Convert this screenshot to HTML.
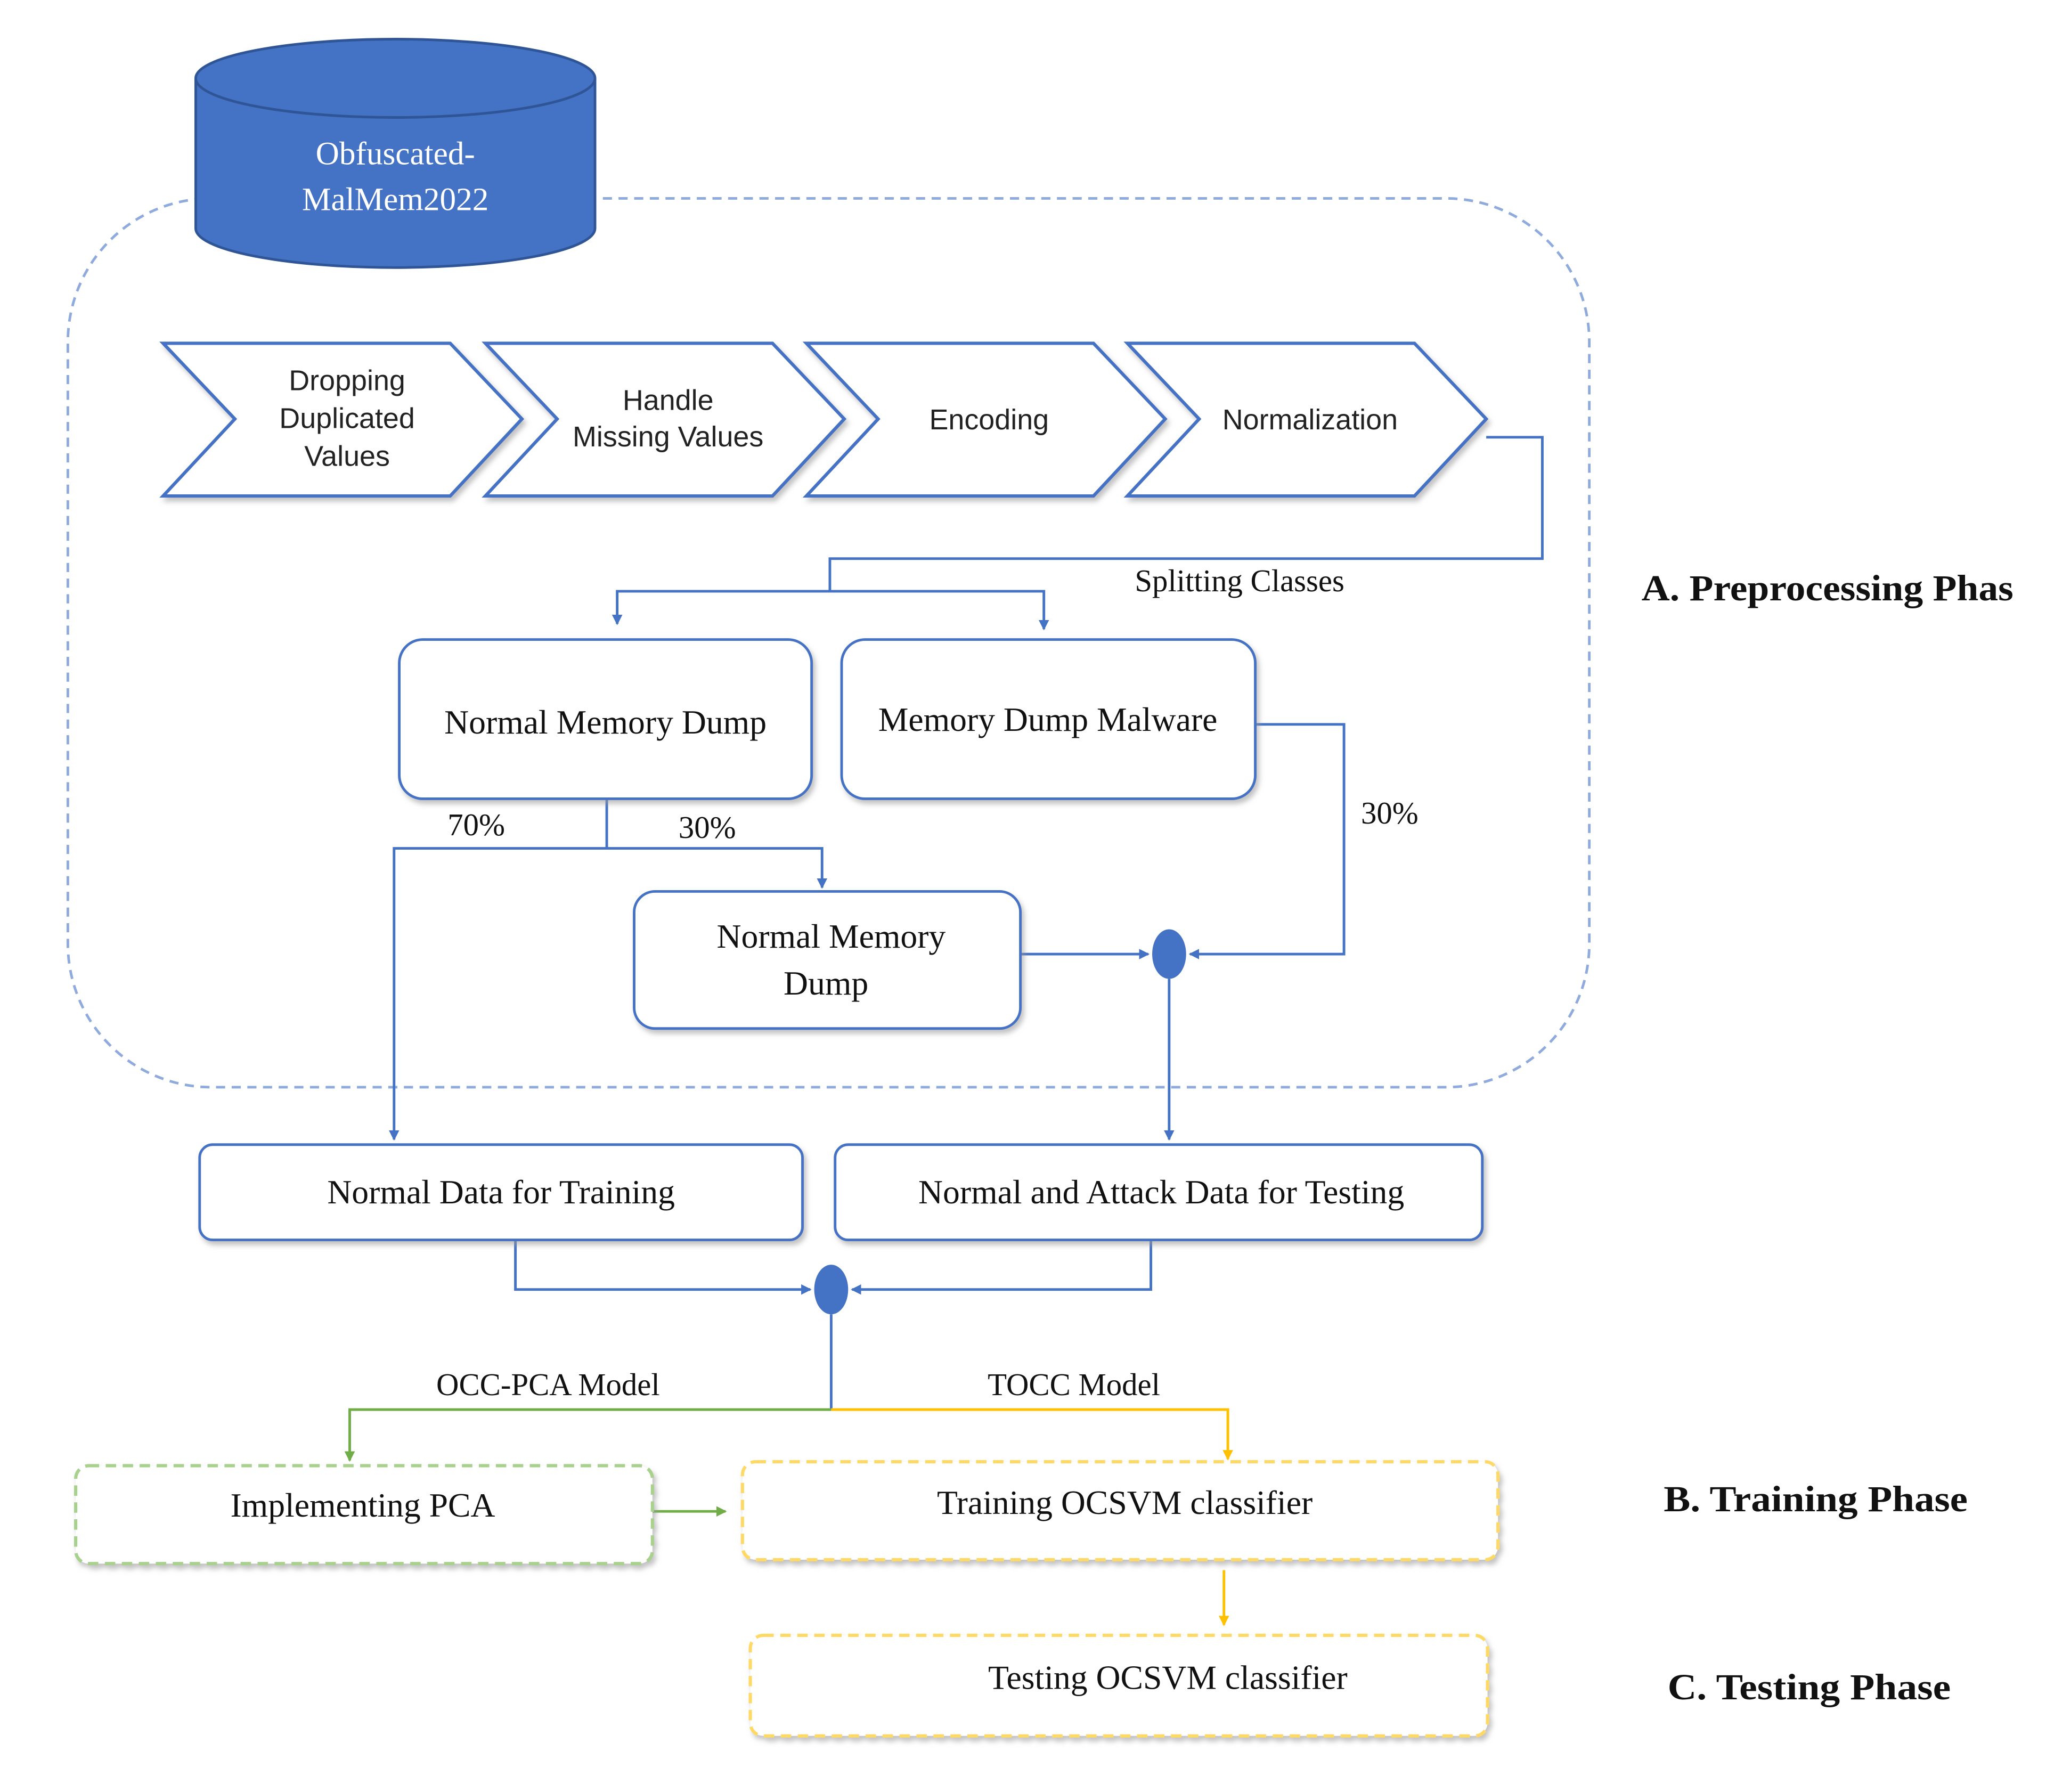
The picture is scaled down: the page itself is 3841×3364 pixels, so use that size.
<!DOCTYPE html>
<html><head><meta charset="utf-8"><style>html,body{margin:0;padding:0;background:#fff;}svg{display:block}</style></head>
<body>
<svg width="3841" height="3364" viewBox="0 0 1568 1373" preserveAspectRatio="none" xmlns="http://www.w3.org/2000/svg">
<defs>
<marker id="ab" markerWidth="8" markerHeight="8" refX="7" refY="4" orient="auto" markerUnits="userSpaceOnUse" viewBox="0 0 8 8"><path d="M0,0 L8,4 L0,8 z" fill="#4472C4"/></marker>
<marker id="ag" markerWidth="8" markerHeight="8" refX="7" refY="4" orient="auto" markerUnits="userSpaceOnUse" viewBox="0 0 8 8"><path d="M0,0 L8,4 L0,8 z" fill="#70AD47"/></marker>
<marker id="ay" markerWidth="8" markerHeight="8" refX="7" refY="4" orient="auto" markerUnits="userSpaceOnUse" viewBox="0 0 8 8"><path d="M0,0 L8,4 L0,8 z" fill="#FFC000"/></marker>
<filter id="sh" x="-10%" y="-10%" width="120%" height="130%"><feDropShadow dx="2" dy="3" stdDeviation="2" flood-color="#999" flood-opacity="0.6"/></filter>
</defs>
<rect x="52" y="152" width="1166" height="681" rx="110" fill="none" stroke="#8FAADC" stroke-width="2" stroke-dasharray="7,5"/>
<path d="M150,60 L150,175 A153,30 0 0 0 456,175 L456,60" fill="#4472C4" stroke="#2F5597" stroke-width="2"/>
<ellipse cx="303" cy="60" rx="153" ry="30" fill="#4472C4" stroke="#2F5597" stroke-width="2"/>
<g font-family="Liberation Serif, serif" font-size="25" fill="#fff" text-anchor="middle">
<text x="303" y="126">Obfuscated-</text><text x="303" y="161">MalMem2022</text></g>
<g fill="#fff" stroke="#4472C4" stroke-width="2.5" filter="url(#sh)">
<path d="M125,263 L345,263 L400,321 L345,380 L125,380 L180,321 Z"/>
<path d="M372,263 L592,263 L647,321 L592,380 L372,380 L427,321 Z"/>
<path d="M618,263 L838,263 L893,321 L838,380 L618,380 L673,321 Z"/>
<path d="M864,263 L1084,263 L1139,321 L1084,380 L864,380 L919,321 Z"/>
</g>
<g font-family="Liberation Sans, sans-serif" font-size="22" fill="#222" text-anchor="middle">
<text x="266" y="299">Dropping</text><text x="266" y="328">Duplicated</text><text x="266" y="357">Values</text>
<text x="512" y="314">Handle</text><text x="512" y="342">Missing Values</text>
<text x="758" y="329">Encoding</text>
<text x="1004" y="329">Normalization</text>
</g>
<g fill="none" stroke="#4472C4" stroke-width="2">
<path d="M1139,335 L1182,335 L1182,428 L636,428 L636,453"/>
<path d="M636,453 L473,453 L473,478" marker-end="url(#ab)"/>
<path d="M636,453 L800,453 L800,482" marker-end="url(#ab)"/>
<path d="M465,612 L465,650 L302,650 L302,873" marker-end="url(#ab)"/>
<path d="M465,650 L630,650 L630,680" marker-end="url(#ab)"/>
<path d="M782,731 L880,731" marker-end="url(#ab)"/>
<path d="M962,555 L1030,555 L1030,731 L912,731" marker-end="url(#ab)"/>
<path d="M896,750 L896,873" marker-end="url(#ab)"/>
<path d="M395,950 L395,988 L621,988" marker-end="url(#ab)"/>
<path d="M882,950 L882,988 L653,988" marker-end="url(#ab)"/>
<path d="M637,1007 L637,1080"/>
</g>
<path d="M637,1080 L268,1080 L268,1119" fill="none" stroke="#70AD47" stroke-width="2" marker-end="url(#ag)"/>
<path d="M637,1080 L941,1080 L941,1118" fill="none" stroke="#FFC000" stroke-width="2" marker-end="url(#ay)"/>
<path d="M500,1158 L556,1158" fill="none" stroke="#70AD47" stroke-width="2" marker-end="url(#ag)"/>
<path d="M938,1203 L938,1245" fill="none" stroke="#FFC000" stroke-width="2" marker-end="url(#ay)"/>
<ellipse cx="896" cy="731" rx="13" ry="19" fill="#4472C4"/>
<ellipse cx="637" cy="988" rx="13" ry="19" fill="#4472C4"/>
<g fill="#fff" stroke="#4472C4" stroke-width="2" filter="url(#sh)">
<rect x="306" y="490" width="316" height="122" rx="18"/>
<rect x="645" y="490" width="317" height="122" rx="18"/>
<rect x="486" y="683" width="296" height="105" rx="16"/>
<rect x="153" y="877" width="462" height="73" rx="10"/>
<rect x="640" y="877" width="496" height="73" rx="10"/>
</g>
<g fill="#fff" stroke-width="2.5" stroke-dasharray="8,5" filter="url(#sh)">
<rect x="58" y="1123" width="442" height="75" rx="10" stroke="#A9D18E"/>
<rect x="569" y="1120" width="579" height="75" rx="10" stroke="#FFD966"/>
<rect x="575" y="1253" width="565" height="77" rx="10" stroke="#FFD966"/>
</g>
<g font-family="Liberation Serif, serif" font-size="26" fill="#111" text-anchor="middle">
<text x="464" y="562">Normal Memory Dump</text>
<text x="803" y="560">Memory Dump Malware</text>
<text x="637" y="726">Normal Memory</text><text x="633" y="762">Dump</text>
<text x="384" y="922">Normal Data for Training</text>
<text x="890" y="922">Normal and Attack Data for Testing</text>
<text x="278" y="1162">Implementing PCA</text>
<text x="862" y="1160">Training OCSVM classifier</text>
<text x="895" y="1294">Testing OCSVM classifier</text>
</g>
<g font-family="Liberation Serif, serif" font-size="24" fill="#111" text-anchor="middle">
<text x="950" y="453">Splitting Classes</text>
<text x="365" y="640">70%</text><text x="542" y="642">30%</text>
<text x="1065" y="631">30%</text>
<text x="420" y="1069">OCC-PCA Model</text>
<text x="823" y="1069">TOCC Model</text>
</g>
<g font-family="Liberation Serif, serif" font-size="28" font-weight="bold" fill="#111">
<text x="1258" y="460" textLength="285" lengthAdjust="spacingAndGlyphs">A.  Preprocessing Phas</text>
<text x="1275" y="1158" textLength="233" lengthAdjust="spacingAndGlyphs">B.  Training Phase</text>
<text x="1278" y="1302" textLength="217" lengthAdjust="spacingAndGlyphs">C.  Testing Phase</text>
</g>
</svg>
</body></html>
